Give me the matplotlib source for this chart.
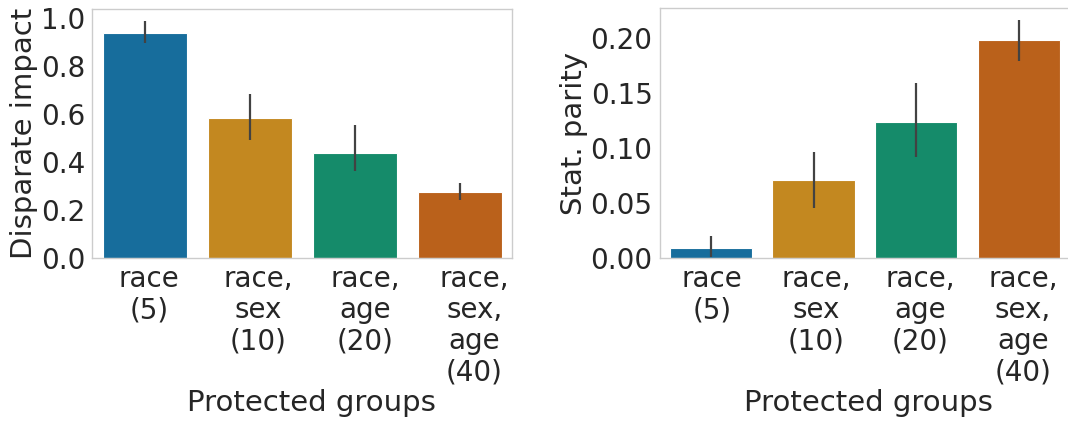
import colorsys
import matplotlib
matplotlib.use("Agg")
import matplotlib.pyplot as plt
import matplotlib.colors as mcolors
import matplotlib.transforms as mtransforms
import numpy as np

# data
groups = ["race\n(5)", "race,\nsex\n(10)", "race,\nage\n(20)", "race,\nsex,\nage\n(40)"]
di_mean = [0.939, 0.582, 0.439, 0.274]
di_low = [0.895, 0.492, 0.362, 0.242]
di_high = [0.989, 0.683, 0.555, 0.312]
sp_mean = [0.0093, 0.0704, 0.1238, 0.198]
sp_low = [0.0012, 0.045, 0.0912, 0.179]
sp_high = [0.0199, 0.0963, 0.159, 0.216]

base_colors = ["#0173b2", "#de8f05", "#029e73", "#d55e00"]


def desaturate(c, prop=0.75):
    r, g, b = mcolors.to_rgb(c)
    h, l, s = colorsys.rgb_to_hls(r, g, b)
    return colorsys.hls_to_rgb(h, l, s * prop)


colors = [desaturate(c) for c in base_colors]
text_color = "#262626"
plt.rcParams["font.family"] = ["DejaVu Sans"]
plt.rcParams["text.color"] = text_color
plt.rcParams["axes.labelcolor"] = text_color
plt.rcParams["xtick.color"] = text_color
plt.rcParams["ytick.color"] = text_color

fig = plt.figure(figsize=(10.68, 4.21), dpi=100)
ax1 = fig.add_axes([92 / 1068, 163 / 421, 420 / 1068, 249 / 421])
ax2 = fig.add_axes([659.5 / 1068, 163 / 421, 410.8 / 1068, 250 / 421])


def draw(ax, mean, low, high, ylabel, yticks, fmt, label_shift, xlabel_x):
    x = np.arange(len(groups))
    ax.bar(x, mean, width=0.8, color=colors, edgecolor="white", linewidth=0.8, zorder=2)
    for xi, lo, hi in zip(x, low, high):
        ax.plot([xi, xi], [lo, hi], color="#424242", linewidth=1.6, solid_capstyle="butt", zorder=3)
    ax.set_xlim(-0.5, len(groups) - 0.5)
    ax.set_ylim(0, max(high) * 1.05)
    ax.set_xticks(x)
    ax.set_xticklabels(groups, linespacing=1.14, fontsize=20)
    ax.set_yticks(yticks)
    ax.set_yticklabels([fmt.format(v) for v in yticks], fontsize=20)
    ax.tick_params(length=0, pad=5)
    ax.set_ylabel(ylabel, labelpad=2, fontsize=21)
    ax.set_xlabel("Protected groups", labelpad=2, fontsize=21)
    ax.xaxis.label.set_x(xlabel_x)
    # the labels in the original sit a little right of their bars
    for lab, dx in zip(ax.get_xticklabels(), label_shift):
        lab.set_transform(lab.get_transform() + mtransforms.ScaledTranslation(dx / 100, 0, fig.dpi_scale_trans))
    for s in ax.spines.values():
        s.set_color("#cccccc")
        s.set_linewidth(1.0)
    ax.grid(False)


draw(ax1, di_mean, di_low, di_high, "Disparate impact", [0.0, 0.2, 0.4, 0.6, 0.8, 1.0], "{:.1f}",
     [4.5, 8.5, 11, 15], 0.522)
draw(ax2, sp_mean, sp_low, sp_high, "Stat. parity", [0.0, 0.05, 0.10, 0.15, 0.20], "{:.2f}",
     [1, 3, 4, 4], 0.508)

fig.savefig("out.png", dpi=100)
